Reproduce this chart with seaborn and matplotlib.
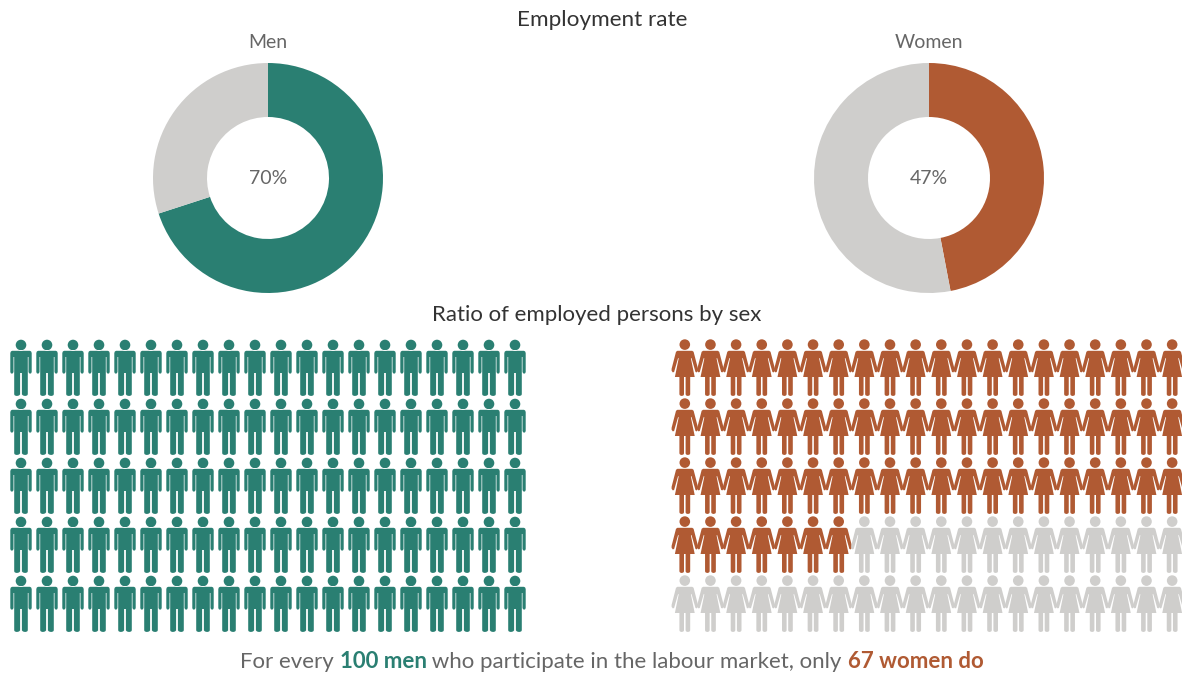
import matplotlib
matplotlib.use('Agg')
import matplotlib.pyplot as plt
import seaborn as sns
import numpy as np
import pandas as pd
from matplotlib.path import Path

# Data
sexes = ['Men', 'Women']
employment_rate = [70, 47]
employed_icons = [100, 67]
n_rows = 5
n_cols = 20

GREEN = '#2A7F72'
BROWN = '#B05A33'
GREY = '#CFCECC'
TEXT_DARK = '#333333'
TEXT_GREY = '#666666'
FONT = 'Lato'

W, H = 1182, 675

sns.set_theme(style='white')
plt.rcParams['font.family'] = [FONT, 'DejaVu Sans']


def px_axes(fig, left, top, right, bottom):
    return fig.add_axes([left / W, 1 - bottom / H, (right - left) / W, (bottom - top) / H])


def icon_path(half_outline, head_y, head_r):
    """Build a person marker from the right half outline, y measured from the icon top."""
    half = np.array(half_outline, dtype=float)
    left = half[::-1] * [-1, 1]
    body = np.vstack([half, left, half[:1]])
    body_verts = np.column_stack([body[:, 0], 28.5 - body[:, 1]])
    codes = [Path.MOVETO] + [Path.LINETO] * (len(body_verts) - 2) + [Path.CLOSEPOLY]
    head = Path.circle((0, 28.5 - head_y), head_r)
    return Path.make_compound_path(head, Path(body_verts, codes))


man_outline = [
    (0, 11.8), (8.8, 11.8), (10.1, 12.4), (10.7, 14), (10.7, 33), (10.2, 34.2), (9.1, 34.7),
    (8.1, 34.2), (7.5, 33), (7.5, 18), (6.8, 18), (6.8, 55.4), (6.1, 56.5), (4.1, 57),
    (2, 56.5), (0.9, 55.4), (0.9, 34), (0, 34),
]
woman_outline = [
    (0, 11.8), (7.4, 11.8), (8.8, 12.8), (13.2, 29.8), (13.2, 31.8), (12, 33.4), (10.7, 33),
    (6.7, 19), (6.1, 19.4), (9.9, 38), (5.4, 38), (5.4, 55.4), (4.8, 56.5), (3.1, 57),
    (1.4, 56.5), (0.8, 55.4), (0.8, 38), (0, 38),
]
man_marker = icon_path(man_outline, 6, 5.3)
woman_marker = icon_path(woman_outline, 5.6, 5.3)


def draw_donut(fig, cx, rate, color):
    R = 115
    ax = px_axes(fig, cx - R, 178 - R, cx + R, 178 + R)
    ax.pie([rate, 100 - rate], colors=[color, GREY], startangle=90, counterclock=False,
           radius=1, wedgeprops={'width': 54 / 115, 'linewidth': 0})
    ax.set_xlim(-1, 1)
    ax.set_ylim(-1, 1)
    ax.text(0, 0, f'{rate}%', ha='center', va='center', fontsize=14, color=TEXT_GREY)


def draw_icons(fig, x0, pitch, employed, marker, color):
    df = pd.DataFrame({
        'row': np.repeat(np.arange(n_rows), n_cols),
        'col': np.tile(np.arange(n_cols), n_rows),
    })
    df['status'] = ['employed' if i < employed else 'other' for i in range(len(df))]

    ax = px_axes(fig, x0 - pitch / 2, 367.5 - 29.5, x0 + pitch * 19.5, 367.5 + 4.5 * 59)
    ax.patch.set_alpha(0)
    sns.scatterplot(data=df, x='col', y='row', hue='status', ax=ax, marker=marker,
                    palette={'employed': color, 'other': GREY}, s=(57 * 0.72) ** 2,
                    linewidth=0, edgecolor='none', legend=False, clip_on=False)
    ax.set_xlim(-0.5, n_cols - 0.5)
    ax.set_ylim(n_rows - 0.5, -0.5)
    ax.axis('off')


fig = plt.figure(figsize=(W / 100, H / 100), dpi=100, facecolor='white')

draw_donut(fig, 268, employment_rate[0], GREEN)
draw_donut(fig, 929, employment_rate[1], BROWN)
draw_icons(fig, 21, 26.0, employed_icons[0], man_marker, GREEN)
draw_icons(fig, 684.8, 25.65, employed_icons[1], woman_marker, BROWN)


def label(x, y, s, size, color, weight='normal'):
    return fig.text(x / W, 1 - y / H, s, ha='center', va='center', fontsize=size,
                    color=color, fontweight=weight)


label(602.5, 20, 'Employment rate', 16.2, TEXT_DARK)
label(597, 315, 'Ratio of employed persons by sex', 16, TEXT_DARK)
label(268, 43, sexes[0], 14, TEXT_GREY)
label(929, 43, sexes[1], 14, TEXT_GREY)

# Bottom sentence, piece by piece so the coloured words sit inline
pieces = [
    ('For every ', TEXT_GREY, 'normal'),
    (f'{employed_icons[0]} men', GREEN, 'bold'),
    (' who participate in the labour market, only ', TEXT_GREY, 'normal'),
    (f'{employed_icons[1]} women do', BROWN, 'bold'),
]
renderer = fig.canvas.get_renderer()
x_px = 240.0
for s, color, weight in pieces:
    t = fig.text(x_px / W, 1 - 668 / H, s, ha='left', va='baseline', fontsize=16,
                 color=color, fontweight=weight)
    # trailing spaces are not always measured, so measure with a stand-in
    probe = fig.text(0, 0, s.replace(' ', '\u00a0'), fontsize=16, fontweight=weight)
    x_px += probe.get_window_extent(renderer).width
    probe.remove()

fig.savefig('out.png', dpi=100)
plt.close(fig)
